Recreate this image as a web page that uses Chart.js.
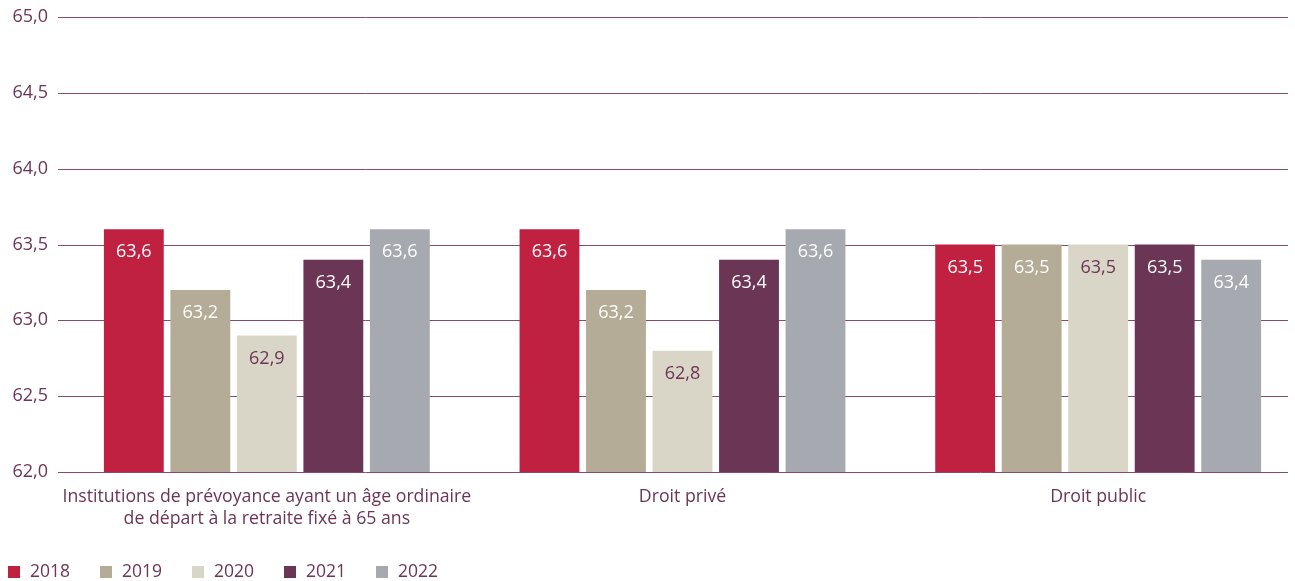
<!DOCTYPE html>
<html>
<head>
<meta charset="utf-8">
<script src="https://cdn.jsdelivr.net/npm/chart.js@4.4.1/dist/chart.umd.min.js"></script>
<style>
  html, body { margin: 0; padding: 0; background: #fff; overflow: hidden; }
  #wrap { width: 1295px; height: 581px; overflow: hidden; }
</style>
</head>
<body>
<div id="wrap"><canvas id="chart" width="1310" height="581"></canvas></div>
<script>
const categories = [
  ['Institutions de prévoyance ayant un âge ordinaire', 'de départ à la retraite fixé à 65 ans'],
  'Droit privé',
  'Droit public'
];
const years = ['2018', '2019', '2020', '2021', '2022'];
const v2018 = [63.6, 63.6, 63.5];
const v2019 = [63.2, 63.2, 63.5];
const v2020 = [62.9, 62.8, 63.5];
const v2021 = [63.4, 63.4, 63.5];
const v2022 = [63.6, 63.6, 63.4];
const yTicks = [62.0, 62.5, 63.0, 63.5, 64.0, 64.5, 65.0];

const colors = ['#c12141', '#b4ac96', '#d9d6c8', '#6b3556', '#a7a9b1'];
const labelColors = ['#ffffff', '#ffffff', '#6b3556', '#ffffff', '#ffffff'];
const purple = '#6b3556';
const gridColor = '#8a4a6c';
const fontFamily = '"Open Sans", "Noto Sans", sans-serif';

const fmt = v => v.toFixed(1).replace('.', ',');

// horizontal grid lines, shorter than the category area
const gridPlugin = {
  id: 'gridLines',
  beforeDatasetsDraw(chart) {
    const { ctx, scales: { y } } = chart;
    ctx.save();
    ctx.strokeStyle = gridColor;
    ctx.lineWidth = 1;
    yTicks.forEach(t => {
      const py = Math.round(y.getPixelForValue(t)) + 0.5;
      ctx.beginPath();
      ctx.moveTo(58, py);
      ctx.lineTo(1288, py);
      ctx.stroke();
    });
    ctx.restore();
  }
};

// value labels inside the top of each bar
const valuePlugin = {
  id: 'values',
  afterDatasetsDraw(chart) {
    const { ctx } = chart;
    ctx.save();
    ctx.font = '18px ' + fontFamily;
    ctx.textAlign = 'center';
    ctx.textBaseline = 'middle';
    chart.data.datasets.forEach((ds, i) => {
      const meta = chart.getDatasetMeta(i);
      meta.data.forEach((bar, j) => {
        ctx.fillStyle = labelColors[i];
        ctx.fillText(fmt(ds.data[j]), bar.x, bar.y + 23);
      });
    });
    ctx.restore();
  }
};

// legend at the bottom left
const legendPlugin = {
  id: 'customLegend',
  afterDraw(chart) {
    const { ctx } = chart;
    ctx.save();
    ctx.font = '17.5px ' + fontFamily;
    ctx.textBaseline = 'middle';
    years.forEach((yr, i) => {
      const x = 8 + i * 92;
      ctx.fillStyle = colors[i];
      ctx.fillRect(x, 566, 12, 12);
      ctx.fillStyle = purple;
      ctx.fillText(yr, x + 22, 572);
    });
    ctx.restore();
  }
};

const series = [v2018, v2019, v2020, v2021, v2022];

new Chart(document.getElementById('chart'), {
  type: 'bar',
  data: {
    labels: categories,
    datasets: years.map((yr, i) => ({
      label: yr,
      data: series[i],
      backgroundColor: colors[i],
      borderWidth: 0,
      categoryPercentage: 0.8,
      barPercentage: 0.9
    }))
  },
  options: {
    responsive: false,
    animation: false,
    layout: { padding: { top: 17, right: 4, left: 0, bottom: 0 } },
    plugins: {
      legend: { display: false },
      tooltip: { enabled: false }
    },
    scales: {
      x: {
        grid: { display: false },
        border: { display: false },
        ticks: {
          color: purple,
          font: { family: fontFamily, size: 17.7, lineHeight: 1.24 },
          padding: 6,
          maxRotation: 0
        },
        afterFit(scale) { scale.height = 109; scale.paddingLeft = 0; scale.paddingRight = 0; }
      },
      y: {
        min: 62,
        max: 65,
        grid: { display: false, drawTicks: false },
        border: { display: false },
        ticks: {
          stepSize: 0.5,
          color: purple,
          padding: 11,
          font: { family: fontFamily, size: 18 },
          callback: v => fmt(v)
        },
        afterFit(scale) { scale.width = 59; scale.paddingTop = 0; scale.paddingBottom = 0; }
      }
    }
  },
  plugins: [gridPlugin, valuePlugin, legendPlugin]
});
</script>
</body>
</html>
